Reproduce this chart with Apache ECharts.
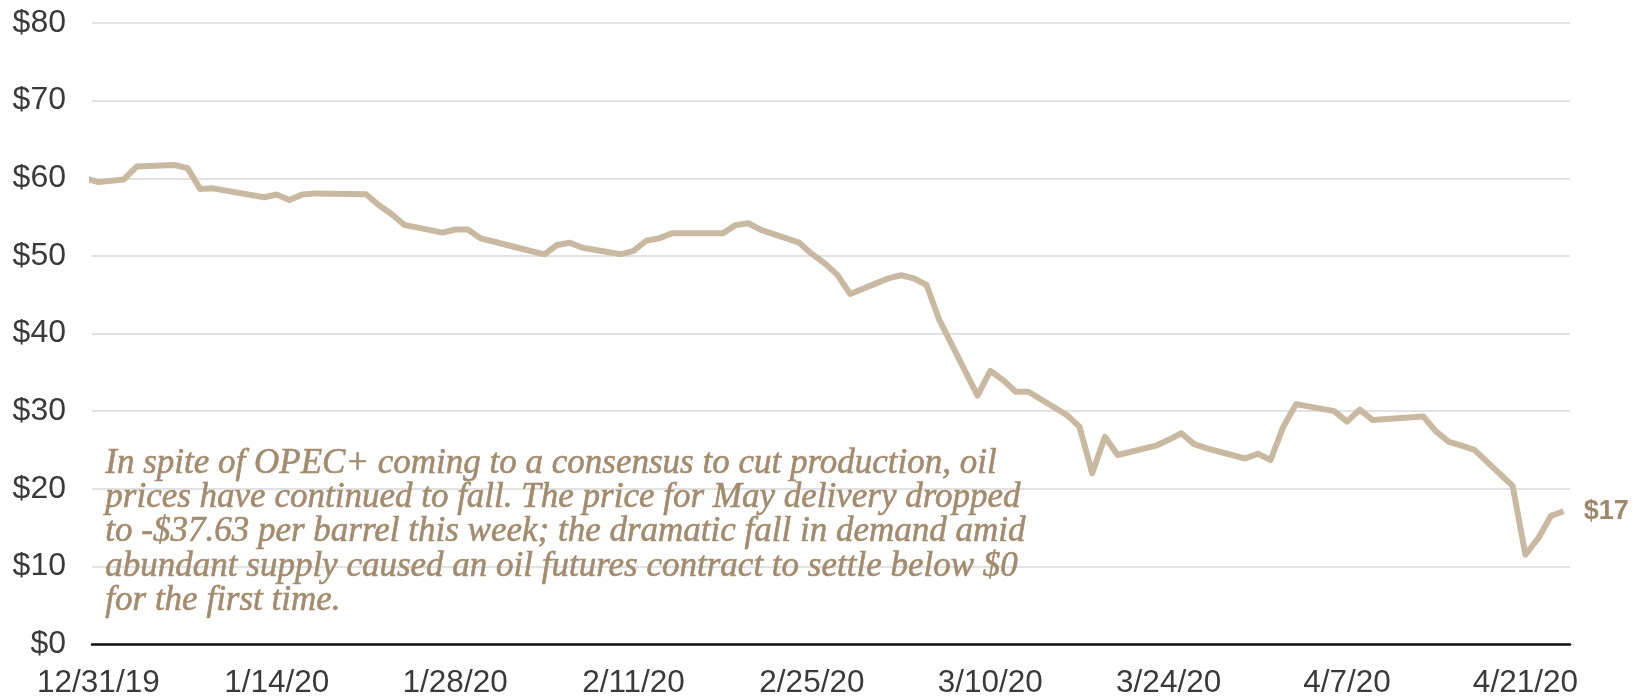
<!DOCTYPE html>
<html>
<head>
<meta charset="utf-8">
<script src="https://cdn.jsdelivr.net/npm/echarts@6/dist/echarts.min.js"></script>
<style>
  html, body { margin: 0; padding: 0; background: #ffffff; }
  #chart { width: 1644px; height: 698px; }
</style>
</head>
<body>
<div id="chart"></div>
<script>
// ---- Data ----
const dates = [
  '2019-12-30','2019-12-31','2020-01-02','2020-01-03','2020-01-06','2020-01-07','2020-01-08','2020-01-09','2020-01-10',
  '2020-01-13','2020-01-14','2020-01-15','2020-01-16','2020-01-17','2020-01-21','2020-01-22','2020-01-23','2020-01-24',
  '2020-01-27','2020-01-28','2020-01-29','2020-01-30','2020-01-31','2020-02-03','2020-02-04','2020-02-05','2020-02-06',
  '2020-02-07','2020-02-10','2020-02-11','2020-02-12','2020-02-13','2020-02-14','2020-02-18','2020-02-19','2020-02-20',
  '2020-02-21','2020-02-24','2020-02-25','2020-02-26','2020-02-27','2020-02-28','2020-03-02','2020-03-03','2020-03-04',
  '2020-03-05','2020-03-06','2020-03-09','2020-03-10','2020-03-11','2020-03-12','2020-03-13','2020-03-16','2020-03-17',
  '2020-03-18','2020-03-19','2020-03-20','2020-03-23','2020-03-24','2020-03-25','2020-03-26','2020-03-27','2020-03-30',
  '2020-03-31','2020-04-01','2020-04-02','2020-04-03','2020-04-06','2020-04-07','2020-04-08','2020-04-09','2020-04-13',
  '2020-04-14','2020-04-15','2020-04-16','2020-04-17','2020-04-20','2020-04-21','2020-04-22','2020-04-23','2020-04-24'
];
const prices = [
  60.0, 59.5, 59.85, 61.5, 61.7, 61.3, 58.6, 58.7, 58.4,
  57.55, 57.9, 57.2, 57.9, 58.05, 57.95, 56.55, 55.4, 54.0,
  53.0, 53.4, 53.4, 52.25, 51.85, 50.6, 50.2, 51.4, 51.7,
  51.05, 50.2, 50.65, 51.95, 52.25, 52.9, 52.9, 53.95, 54.2,
  53.35, 51.7, 50.25, 49.05, 47.55, 45.1, 47.1, 47.5, 47.1,
  46.25, 41.75, 32.0, 35.2, 34.0, 32.5, 32.5, 29.5, 28.0,
  22.0, 26.7, 24.35, 25.55, 26.3, 27.15, 25.75, 25.2, 23.9,
  24.5, 23.7, 28.0, 30.9, 30.0, 28.65, 30.2, 28.85, 29.3,
  27.35, 26.05, 25.55, 25.0, 20.35, 11.5, 13.6, 16.5, 17.1
];
const tickDates = ['2019-12-31','2020-01-14','2020-01-28','2020-02-11','2020-02-25','2020-03-10','2020-03-24','2020-04-07','2020-04-21'];
const tickLabels = ['12/31/19','1/14/20','1/28/20','2/11/20','2/25/20','3/10/20','3/24/20','4/7/20','4/21/20'];
const yTicks = [0, 10, 20, 30, 40, 50, 60, 70, 80];
const axisStart = '2019-12-31';
const axisEnd = '2020-04-24';
const annotation = 'In spite of OPEC+ coming to a consensus to cut production, oil\n' +
  'prices have continued to fall. The price for May delivery dropped\n' +
  'to -$37.63 per barrel this week; the dramatic fall in demand amid\n' +
  'abundant supply caused an oil futures contract to settle below $0\n' +
  'for the first time.';

// ---- helpers ----
function dayIndex(s) {
  const p = s.split('-').map(Number);
  const b = axisStart.split('-').map(Number);
  return Math.round((Date.UTC(p[0], p[1] - 1, p[2]) - Date.UTC(b[0], b[1] - 1, b[2])) / 86400000);
}
const seriesData = dates.map((d, i) => [dayIndex(d), prices[i]]);
const tickIdx = tickDates.map(dayIndex);

const chart = echarts.init(document.getElementById('chart'), null, { renderer: 'canvas' });
chart.setOption({
  animation: false,
  backgroundColor: '#ffffff',
  grid: { left: 92, right: 74, top: 23, bottom: 54, containLabel: false, outerBoundsMode: 'none' },
  xAxis: {
    type: 'value',
    min: -0.5,
    max: dayIndex(axisEnd) + 0.5,
    axisLine: { show: true, onZero: false, lineStyle: { color: '#111111', width: 2.5 } },
    axisTick: { show: false },
    splitLine: { show: false },
    axisLabel: {
      customValues: tickIdx,
      margin: 23,
      color: '#3a3a3a',
      fontFamily: '"Liberation Sans", Arial, sans-serif',
      fontSize: 31.5,
      formatter: function (v) {
        const k = tickIdx.indexOf(Math.round(v));
        return k >= 0 ? tickLabels[k] : '';
      }
    }
  },
  yAxis: {
    type: 'value',
    min: yTicks[0],
    max: yTicks[yTicks.length - 1],
    interval: 10,
    axisLine: { show: false },
    axisTick: { show: false },
    splitLine: { show: true, lineStyle: { color: '#d9d9d9', width: 1.5 } },
    axisLabel: {
      margin: 26,
      color: '#3a3a3a',
      fontFamily: '"Liberation Sans", Arial, sans-serif',
      fontSize: 32,
      formatter: function (v) { return '$' + v; }
    }
  },
  series: [{
    type: 'line',
    data: seriesData,
    symbol: 'none',
    clip: true,
    lineStyle: { color: '#c9b9a1', width: 6, join: 'round' },
    endLabel: {
      show: true,
      distance: 20,
      color: '#a0886a',
      fontFamily: '"Liberation Sans", Arial, sans-serif',
      fontWeight: 'bold',
      fontSize: 27,
      formatter: function (p) { return '$' + Math.round(p.value[1]); }
    },
    z: 3
  }],
  graphic: [{
    type: 'text',
    left: 105,
    top: 446,
    z: 10,
    style: {
      text: annotation,
      fill: '#a38b6d',
      stroke: '#a38b6d',
      lineWidth: 0.6,
      fontFamily: '"Liberation Serif", "Times New Roman", serif',
      fontStyle: 'italic',
      fontSize: 35,
      lineHeight: 34.2
    }
  }]
});
</script>
</body>
</html>
